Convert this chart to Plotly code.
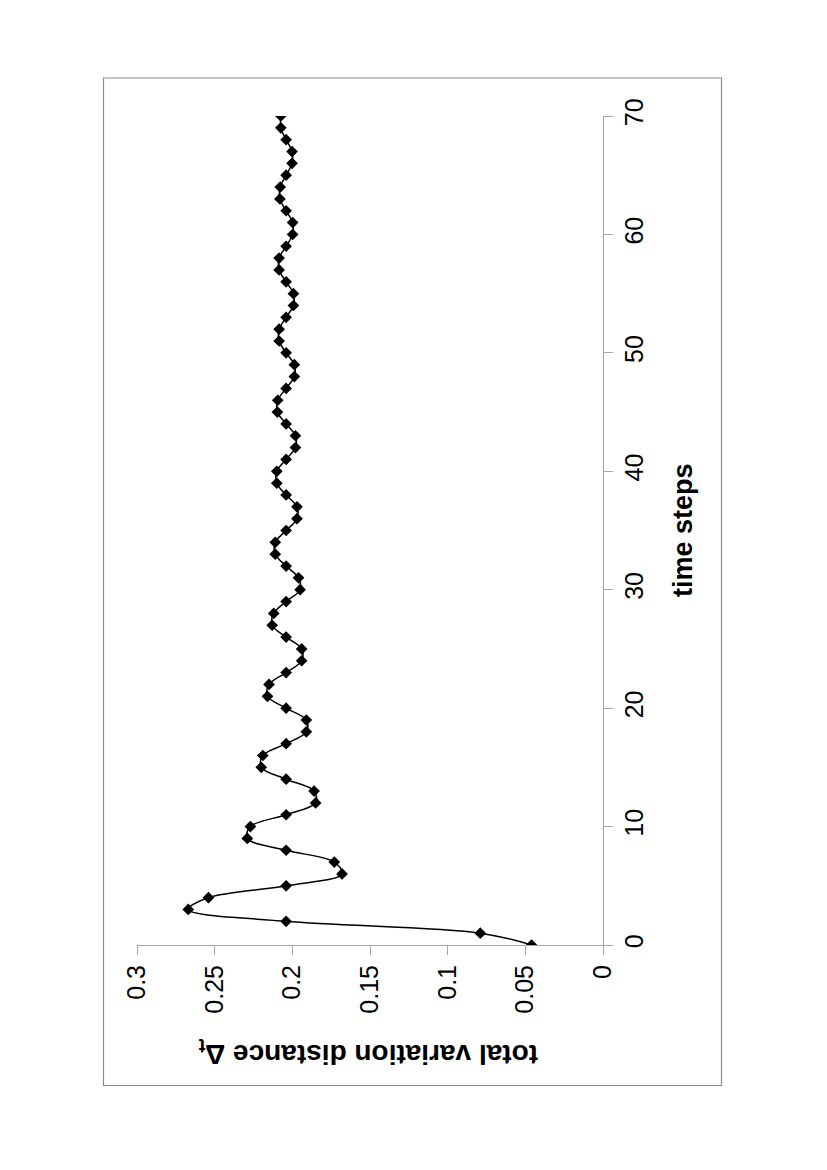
import plotly.graph_objects as go

# time steps 0..70 and the total variation distance
time_steps = list(range(71))
tv_distance = [
    0.046, 0.079, 0.204, 0.267, 0.254, 0.204, 0.168, 0.173, 0.204, 0.229,
    0.227, 0.204, 0.185, 0.186, 0.204, 0.220, 0.219, 0.204, 0.191, 0.191,
    0.204, 0.216, 0.215, 0.204, 0.194, 0.194, 0.204, 0.213, 0.212, 0.204,
    0.195, 0.196, 0.204, 0.211, 0.211, 0.204, 0.197, 0.197, 0.204, 0.210,
    0.210, 0.204, 0.198, 0.198, 0.204, 0.2096, 0.2094, 0.204, 0.1987, 0.1987,
    0.204, 0.2085, 0.2085, 0.204, 0.1993, 0.1993, 0.204, 0.2085, 0.2085, 0.204,
    0.1998, 0.1998, 0.204, 0.208, 0.2078, 0.204, 0.2002, 0.2002, 0.204, 0.2074,
    0.2074,
]

time_ticks = [0, 10, 20, 30, 40, 50, 60, 70]
dist_ticks = [0.3, 0.25, 0.2, 0.15, 0.1, 0.05, 0]
dist_labels = ["0.3", "0.25", "0.2", "0.15", "0.1", "0.05", "0"]

FONT = "Liberation Sans, Arial, sans-serif"
AXIS_GREY = "#a6a6a6"

# the page is printed sideways: distance runs right-to-left, time runs upward
L, R, T, B = 137, 603, 116, 945
W, H = 827, 1170


def px(x):
    return (x - L) / (R - L)


def py(y):
    return (B - y) / (B - T)


fig = go.Figure()

fig.add_trace(go.Scatter(
    x=tv_distance,
    y=time_steps,
    mode='lines+markers',
    line=dict(color='black', width=1.5, shape='spline', smoothing=1),
    marker=dict(symbol='diamond', size=9, color='black'),
    showlegend=False,
))

# outer frame
fig.add_shape(type='rect', xref='paper', yref='paper',
              x0=px(103.5), x1=px(721.5), y0=py(1085.5), y1=py(78),
              line=dict(color='#8c8c8c', width=1.2))

# axis titles, rotated like the page
fig.add_annotation(text="<b>time steps</b>", xref='paper', yref='paper',
                   x=px(700), y=py(530), showarrow=False, textangle=-90,
                   font=dict(family=FONT, size=27, color='black'))
fig.add_annotation(text="<b>total variation distance Δ<sub>t</sub></b>",
                   xref='paper', yref='paper',
                   x=px(368), y=py(1072), showarrow=False, textangle=180,
                   font=dict(family=FONT, size=28, color='black'))

fig.update_layout(
    width=W, height=H,
    margin=dict(l=L, r=W - R, t=T, b=H - B, autoexpand=False),
    paper_bgcolor='white', plot_bgcolor='white',
    xaxis=dict(
        range=[0.3, 0], tickvals=dist_ticks, ticktext=dist_labels,
        tickangle=-90, ticks='outside', ticklen=9, tickcolor=AXIS_GREY,
        showline=True, linecolor=AXIS_GREY, linewidth=1,
        showgrid=False, zeroline=False, ticklabelstandoff=0,
        tickfont=dict(family=FONT, size=25, color='black'),
    ),
    yaxis=dict(
        range=[0, 70], tickvals=time_ticks, side='right',
        tickangle=-90, ticks='outside', ticklen=9, tickcolor=AXIS_GREY,
        showline=True, linecolor=AXIS_GREY, linewidth=1,
        showgrid=False, zeroline=False, ticklabelstandoff=0,
        tickfont=dict(family=FONT, size=25, color='black'),
    ),
)

fig.write_html("out.html", config={'displayModeBar': False},
               post_script="document.body.style.margin='0px';")
